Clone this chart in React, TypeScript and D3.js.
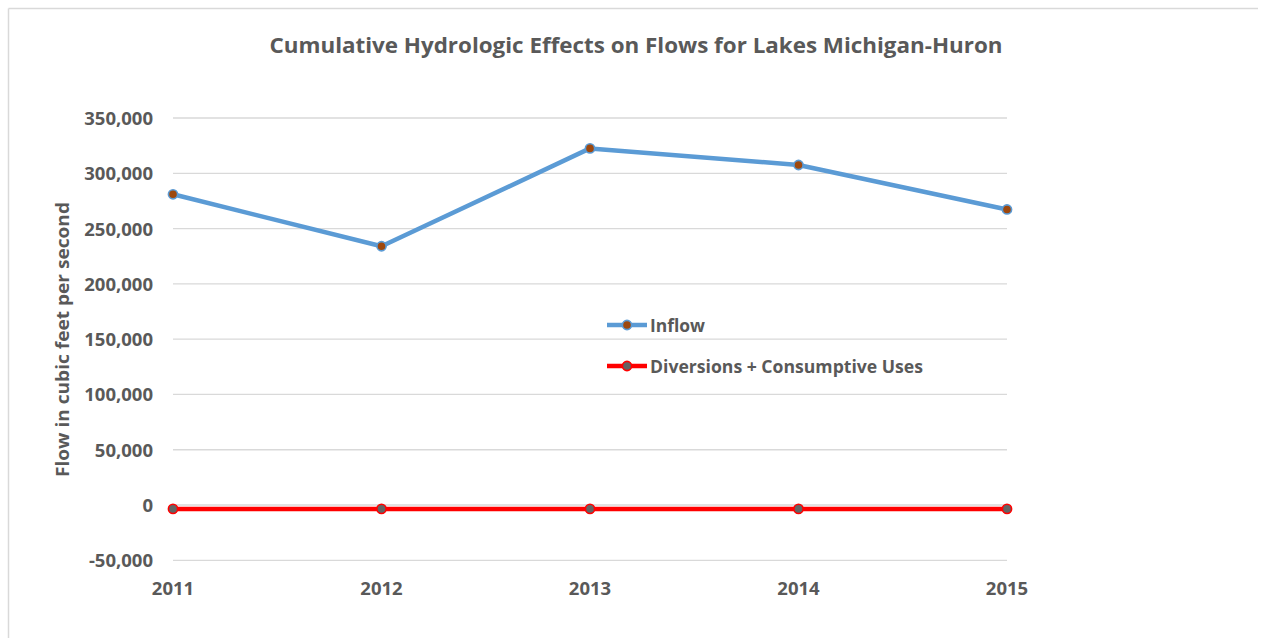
import React from "react";
import * as d3 from "d3";

const years = ["2011", "2012", "2013", "2014", "2015"];
const inflow = [281000, 234000, 322500, 307500, 267300];
const diversions = [-3500, -3500, -3500, -3500, -3500];
const yTicks = [-50000, 0, 50000, 100000, 150000, 200000, 250000, 300000, 350000];

const W = 1265;
const H = 638;
const FONT = "'Open Sans', 'Liberation Sans', sans-serif";
const TXT = "#595959";

export default function App() {
  const x = d3.scalePoint<string>().domain(years).range([173, 1007]);
  const y = d3.scaleLinear().domain([-50000, 350000]).range([560.3, 118]);
  const fmt = (v: number) => d3.format(",")(v).replace("\u2212", "-");
  const line = d3
    .line<number>()
    .x((_, i) => x(years[i]) as number)
    .y((d) => y(d));

  return (
    <svg
      width={W}
      height={H}
      style={{ position: "absolute", left: 0, top: 0, background: "#fff" }}
    >
      <rect x={0} y={0} width={W} height={H} fill="#fff" />
      <line x1={8.5} y1={8.5} x2={1258} y2={8.5} stroke="#d9d9d9" strokeWidth={1.5} />
      <line x1={8.5} y1={8.5} x2={8.5} y2={H} stroke="#d9d9d9" strokeWidth={1.5} />
      <text
        x={636}
        y={53}
        textAnchor="middle"
        fontFamily={FONT}
        fontWeight="bold"
        fontSize={22}
        fill={TXT}
        textLength={733}
        lengthAdjust="spacingAndGlyphs"
      >
        Cumulative Hydrologic Effects on Flows for Lakes Michigan-Huron
      </text>
      {yTicks.map((t) => (
        <g key={t}>
          <line x1={173} x2={1007} y1={y(t)} y2={y(t)} stroke="#d9d9d9" strokeWidth={1.3} />
          <text
            x={153}
            y={y(t) + 7}
            textAnchor="end"
            fontFamily={FONT}
            fontWeight="bold"
            fontSize={18.5}
            fill={TXT}
          >
            {fmt(t)}
          </text>
        </g>
      ))}
      {years.map((yr) => (
        <text
          key={yr}
          x={x(yr)}
          y={595}
          textAnchor="middle"
          fontFamily={FONT}
          fontWeight="bold"
          fontSize={18.5}
          fill={TXT}
        >
          {yr}
        </text>
      ))}
      <text
        transform="translate(69,339.5) rotate(-90)"
        textAnchor="middle"
        fontFamily={FONT}
        fontWeight="bold"
        fontSize={18}
        fill={TXT}
        textLength={275}
        lengthAdjust="spacingAndGlyphs"
      >
        Flow in cubic feet per second
      </text>
      <path d={line(inflow) || ""} fill="none" stroke="#5b9bd5" strokeWidth={4.5} strokeLinejoin="round" />
      {inflow.map((v, i) => (
        <circle key={i} cx={x(years[i])} cy={y(v)} r={4.6} fill="#9e480e" stroke="#5b9bd5" strokeWidth={1.6} />
      ))}
      <path d={line(diversions) || ""} fill="none" stroke="#ff0000" strokeWidth={4.5} strokeLinejoin="round" />
      {diversions.map((v, i) => (
        <circle key={i} cx={x(years[i])} cy={y(v)} r={4.6} fill="#636363" stroke="#ff0000" strokeWidth={1.6} />
      ))}
      <g>
        <line x1={607} x2={647} y1={325} y2={325} stroke="#5b9bd5" strokeWidth={4.5} />
        <circle cx={627} cy={325} r={4.6} fill="#9e480e" stroke="#5b9bd5" strokeWidth={1.6} />
        <text x={650} y={332} fontFamily={FONT} fontWeight="bold" fontSize={18} fill={TXT} textLength={55} lengthAdjust="spacingAndGlyphs">
          Inflow
        </text>
        <line x1={607} x2={647} y1={366} y2={366} stroke="#ff0000" strokeWidth={4.5} />
        <circle cx={627} cy={366} r={4.6} fill="#636363" stroke="#ff0000" strokeWidth={1.6} />
        <text x={650} y={373} fontFamily={FONT} fontWeight="bold" fontSize={18} fill={TXT} textLength={273} lengthAdjust="spacingAndGlyphs">
          Diversions + Consumptive Uses
        </text>
      </g>
    </svg>
  );
}
